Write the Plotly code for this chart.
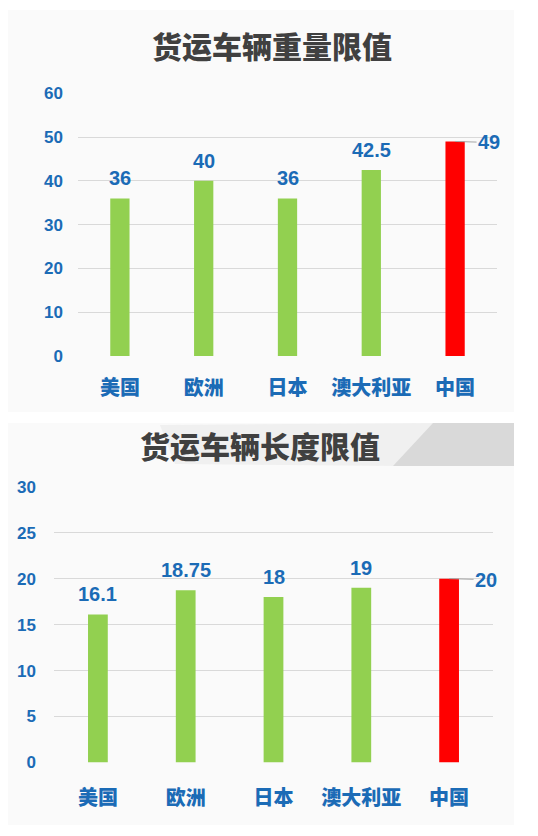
import plotly.graph_objects as go

# viewport offset by the page's default 8px body margin
OFF = 8
W, H = 538 - OFF, 836 - OFF

categories = ["美国", "欧洲", "日本", "澳大利亚", "中国"]
weight_values = [36, 40, 36, 42.5, 49]
length_values = [16.1, 18.75, 18, 19, 20]
weight_labels = ["36", "40", "36", "42.5", "49"]
length_labels = ["16.1", "18.75", "18", "19", "20"]
weight_ticks = [0, 10, 20, 30, 40, 50, 60]
length_ticks = [0, 5, 10, 15, 20, 25, 30]
title_weight = "货运车辆重量限值"
title_length = "货运车辆长度限值"

GREEN = "#92d050"
RED = "#ff0000"
BLUE = "#1b6bb6"
GRID = "#d9d9d9"
FONT = "Liberation Sans, Arial, Noto Sans CJK SC, sans-serif"
CJK = "Noto Sans CJK SC, Liberation Sans, sans-serif"

colors = [GREEN] * (len(categories) - 1) + [RED]
cat_range = [-0.5, len(categories) - 0.5]


def px(x):
    return (x - OFF) / W


def py(y):
    return 1 - (y - OFF) / H


fig = go.Figure()
fig.add_trace(go.Bar(x=categories, y=weight_values, marker_color=colors,
                     marker_line_width=0, width=0.23, xaxis="x", yaxis="y",
                     hoverinfo="skip"))
fig.add_trace(go.Bar(x=categories, y=length_values, marker_color=colors,
                     marker_line_width=0, width=0.225, xaxis="x2", yaxis="y2",
                     hoverinfo="skip"))

label_font = dict(family=FONT, size=20, color=BLUE, weight="bold")
annotations = []
for xr, yr, vals, labs, ax in [("x", "y", weight_values, weight_labels, 34),
                               ("x2", "y2", length_values, length_labels, 37)]:
    for i, (c, v, t) in enumerate(zip(categories, vals, labs)):
        if i < len(categories) - 1:
            annotations.append(dict(x=c, y=v, xref=xr, yref=yr, text=t,
                                    showarrow=False, xanchor="center", yanchor="bottom", yshift=7,
                                    font=label_font))
        else:
            annotations.append(dict(x=c, y=v, xref=xr, yref=yr, text=t,
                                    showarrow=True, arrowhead=0, arrowwidth=1,
                                    arrowcolor="#a6a6a6", ax=ax, ay=1, standoff=0,
                                    font=label_font))

annotations.append(dict(x=px(272), y=py(45), xref="paper", yref="paper",
                        xanchor="center", yanchor="middle",
                        text=title_weight, showarrow=False,
                        font=dict(family=CJK, size=30, color="#404040", weight=900)))
annotations.append(dict(x=px(260), y=py(445), xref="paper", yref="paper",
                        xanchor="center", yanchor="middle",
                        text=title_length, showarrow=False,
                        font=dict(family=CJK, size=30, color="#404040", weight=900)))


def poly(points, color):
    d = "M " + " L ".join("%f,%f" % (px(a), py(b)) for a, b in points) + " Z"
    return dict(type="path", path=d, xref="paper", yref="paper",
                fillcolor=color, line=dict(width=0), layer="below")


shapes = [
    dict(type="rect", xref="paper", yref="paper", x0=px(8), x1=px(514),
         y0=py(412), y1=py(10), fillcolor="#fafafa", line=dict(width=0), layer="below"),
    dict(type="rect", xref="paper", yref="paper", x0=px(8), x1=px(514),
         y0=py(825), y1=py(423), fillcolor="#fafafa", line=dict(width=0), layer="below"),
    poly([(160, 425), (440, 423), (398, 466), (175, 464)], "#f0f0f0"),
    poly([(433, 423), (514, 423), (514, 466), (393, 466)], "#d9d9d9"),
]

axis_common = dict(showline=False, zeroline=False, fixedrange=True, automargin=False)

fig.update_layout(
    template="none",
    width=W, height=H,
    margin=dict(l=0, r=0, t=0, b=0, pad=0, autoexpand=False),
    paper_bgcolor="white",
    plot_bgcolor="rgba(0,0,0,0)",
    showlegend=False,
    bargap=0.77,
    annotations=annotations,
    shapes=shapes,
    xaxis=dict(domain=[px(78), px(497)], anchor="y", showgrid=False, range=cat_range,
               tickfont=dict(family=CJK, size=20, color=BLUE, weight=900),
               ticks="", ticklabelstandoff=18, **axis_common),
    yaxis=dict(domain=[py(356), py(93.3)], anchor="x", range=[0, 60],
               tickvals=weight_ticks,
               showgrid=True, gridcolor=GRID, gridwidth=1,
               tickfont=dict(family=FONT, size=17, color=BLUE, weight="bold"),
               ticks="", ticklabelstandoff=14, **axis_common),
    xaxis2=dict(domain=[px(54), px(493)], anchor="y2", showgrid=False, range=cat_range,
                tickfont=dict(family=CJK, size=20, color=BLUE, weight=900),
                ticks="", ticklabelstandoff=21, **axis_common),
    yaxis2=dict(domain=[py(762.5), py(486.7)], anchor="x2", range=[0, 30],
                tickvals=length_ticks,
                showgrid=True, gridcolor=GRID, gridwidth=1,
                tickfont=dict(family=FONT, size=17, color=BLUE, weight="bold"),
                ticks="", ticklabelstandoff=17, **axis_common),
)

fig.write_html("out.html")
